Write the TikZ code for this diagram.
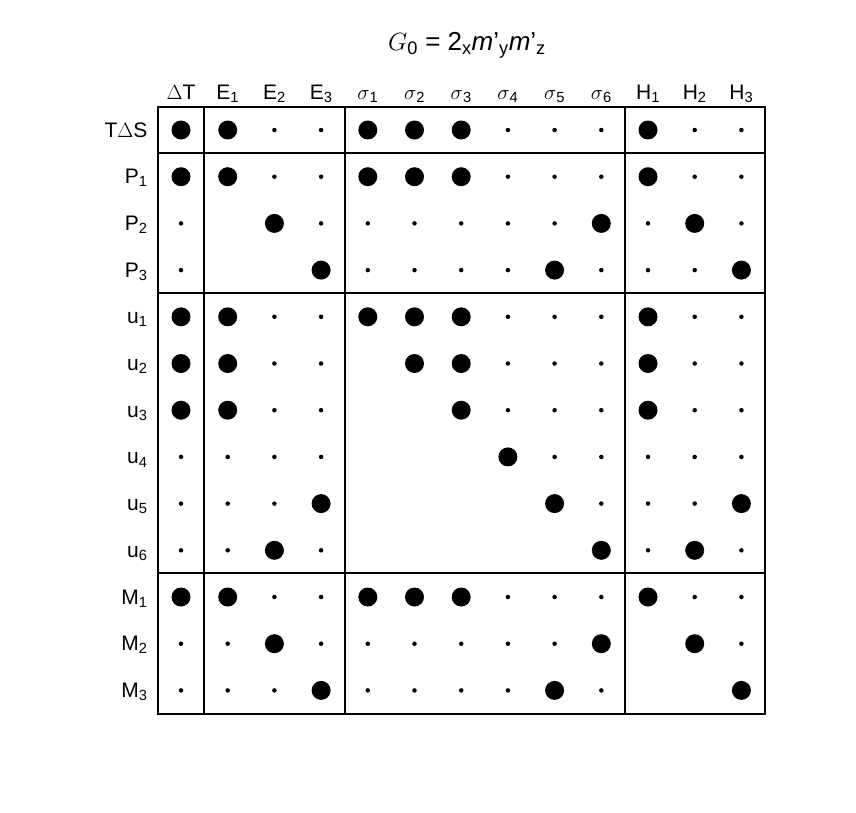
\documentclass[tikz,border=0pt]{standalone}
\usepackage{fontspec}
\setmainfont{Liberation Sans}
\usetikzlibrary{positioning}

\begin{document}
\begin{tikzpicture}[x=1pt,y=-1pt,
bigdot/.style={circle, fill=black, inner sep=0pt, minimum size=19pt},
smalldot/.style={circle, fill=black, inner sep=0pt, minimum size=4.5pt},
collabel/.style={font=\fontsize{21}{24}\selectfont, anchor=base},
rowlabel/.style={font=\fontsize{21}{24}\selectfont, anchor=base east},
frameline/.style={line width=2.6pt}
]
    \useasboundingbox (0,0) rectangle (856,812);
    \node[font=\fontsize{26}{30}\selectfont] (title) at (467,45) {$G$\textsubscript{0} = 2\textsubscript{x}\textit{m}'\textsubscript{y}\textit{m}'\textsubscript{z}};

    % column and row labels
    \foreach \t [count=\j] in {$\Delta$T,E\textsubscript{1},E\textsubscript{2},E\textsubscript{3},$\sigma$\textsubscript{1},$\sigma$\textsubscript{2},$\sigma$\textsubscript{3},$\sigma$\textsubscript{4},$\sigma$\textsubscript{5},$\sigma$\textsubscript{6},H\textsubscript{1},H\textsubscript{2},H\textsubscript{3}}
        \node[collabel] (c\j) at ({181+46.7*(\j-1)},99) {\t};
    \foreach \t [count=\i] in {T$\Delta$S,P\textsubscript{1},P\textsubscript{2},P\textsubscript{3},u\textsubscript{1},u\textsubscript{2},u\textsubscript{3},u\textsubscript{4},u\textsubscript{5},u\textsubscript{6},M\textsubscript{1},M\textsubscript{2},M\textsubscript{3}}
        \node[rowlabel] (r\i) at (151,{137+46.7*(\i-1)}) {\t};

    % dots: b = big, s = small, n = none
    \foreach \row [count=\i] in {
        {b,b,s,s,b,b,b,s,s,s,b,s,s},
        {b,b,s,s,b,b,b,s,s,s,b,s,s},
        {s,n,b,s,s,s,s,s,s,b,s,b,s},
        {s,n,n,b,s,s,s,s,b,s,s,s,b},
        {b,b,s,s,b,b,b,s,s,s,b,s,s},
        {b,b,s,s,n,b,b,s,s,s,b,s,s},
        {b,b,s,s,n,n,b,s,s,s,b,s,s},
        {s,s,s,s,n,n,n,b,s,s,s,s,s},
        {s,s,s,b,n,n,n,n,b,s,s,s,b},
        {s,s,b,s,n,n,n,n,n,b,s,b,s},
        {b,b,s,s,b,b,b,s,s,s,b,s,s},
        {s,s,b,s,s,s,s,s,s,b,n,b,s},
        {s,s,s,b,s,s,s,s,b,s,n,n,b}}
        \foreach \v [count=\j] in \row {
            \if b\v \node[bigdot] (d\i-\j) at ({181+46.7*(\j-1)},{130+46.7*(\i-1)}) {}; \fi
            \if s\v \node[smalldot] (d\i-\j) at ({181+46.7*(\j-1)},{130+46.7*(\i-1)}) {}; \fi
        };

    % frame
    \draw[frameline] (158,107) rectangle (765,714);
    \foreach \x in {204,345,625} \draw[frameline] (\x,107) -- (\x,714);
    \foreach \y in {153,293,573} \draw[frameline] (158,\y) -- (765,\y);
\end{tikzpicture}
\end{document}
